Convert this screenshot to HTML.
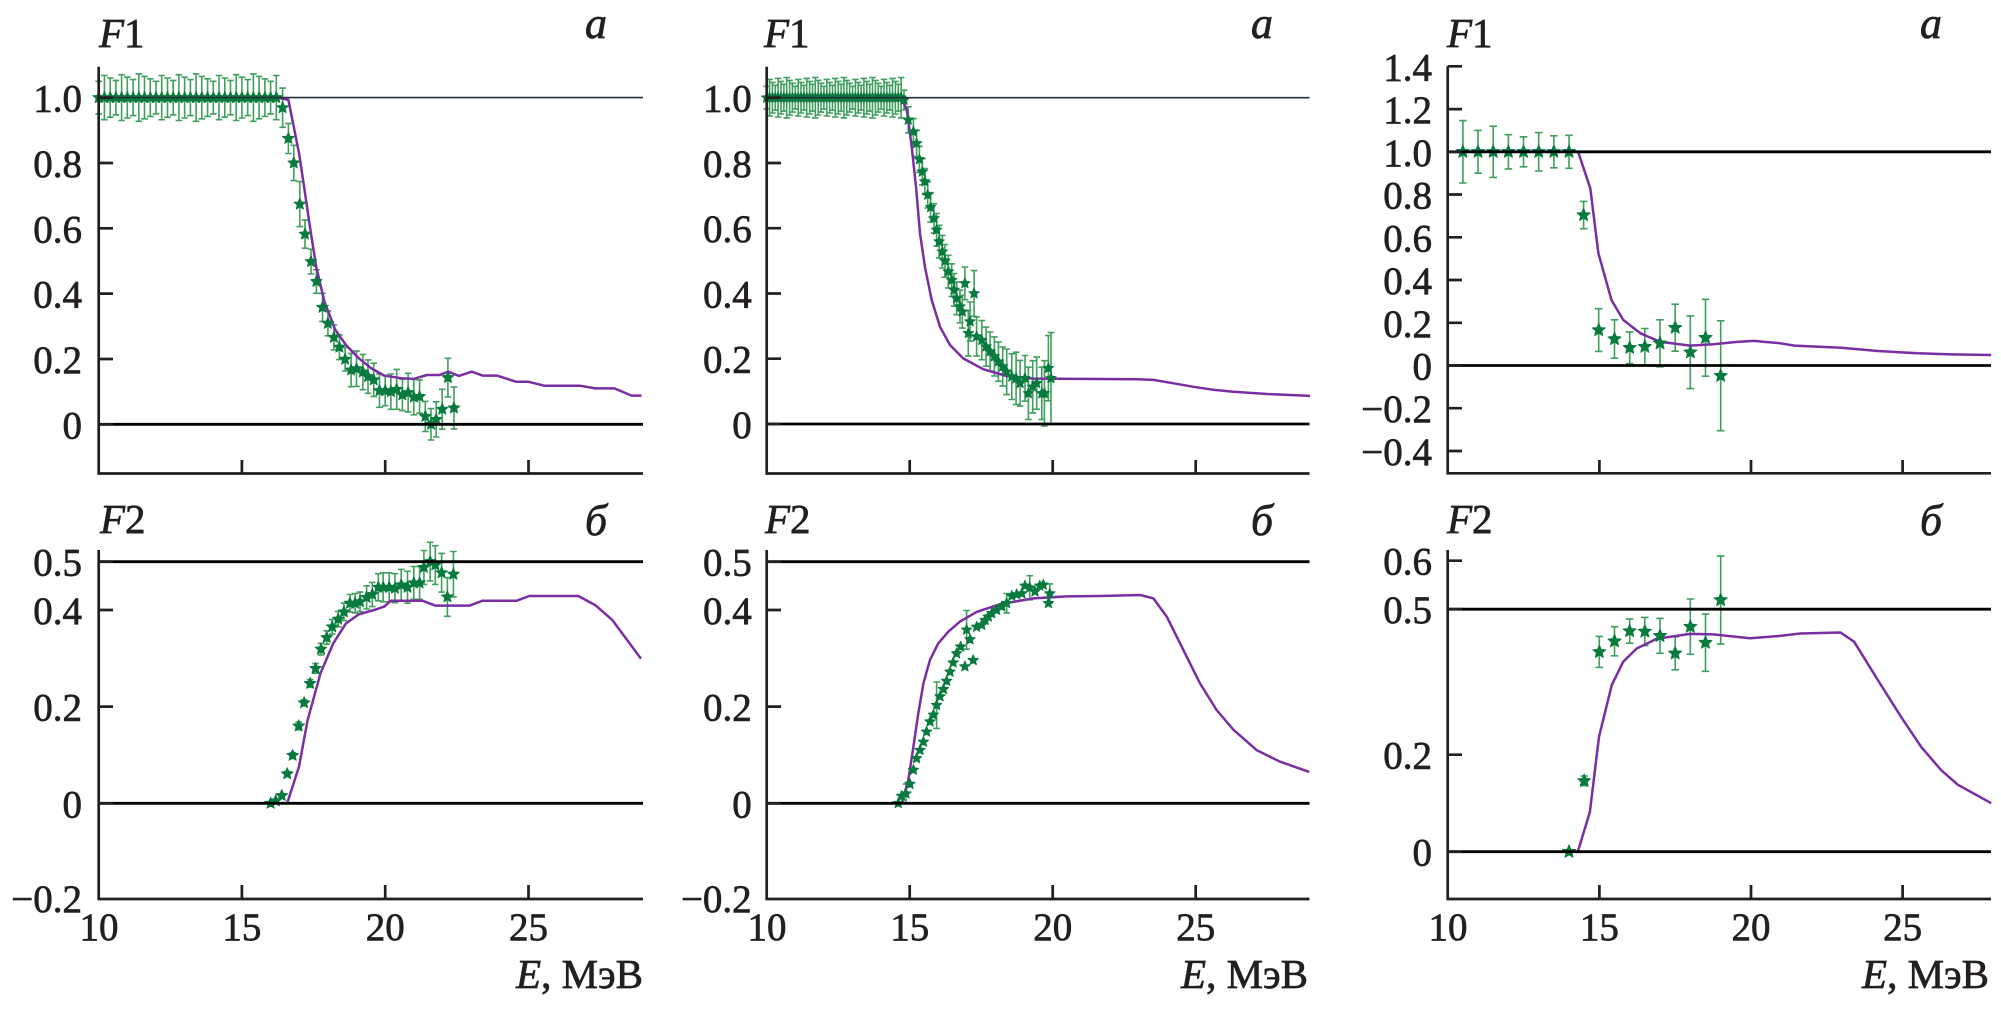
<!DOCTYPE html>
<html><head><meta charset="utf-8">
<style>
html,body{margin:0;padding:0;background:#fff;width:2001px;height:1033px;overflow:hidden}
svg{position:absolute;left:0;top:0}
.ax{stroke:#231f20;stroke-width:2.7;fill:none}
.rthin{stroke:#24303c;stroke-width:1.6}
.rthick{stroke:#000;stroke-width:2.8}
text{font-family:"Liberation Serif","DejaVu Serif",serif;fill:#231f20;stroke:#231f20;stroke-width:0.7}
.t{font-size:39px}
.tl{font-size:39px;text-anchor:end}
.tc{font-size:39px;text-anchor:middle}
.f{font-size:41px}
.it{font-style:italic}
.ab{font-size:44px;font-style:italic}
.e{font-size:41px;text-anchor:end}
</style></head><body>
<svg width="2001" height="1033" viewBox="0 0 2001 1033" xmlns="http://www.w3.org/2000/svg">
<g id="data"></g>

<!-- ===== Panel 1 top ===== -->
<line class="rthin" x1="98.7" y1="97.6" x2="643" y2="97.6"/>
<line class="rthick" x1="98.7" y1="424.3" x2="643" y2="424.3"/>
<path class="ax" d="M98.7 66.7V474.8M97.4 473.5H643M98.7 163H113M98.7 228.3H113M98.7 293.6H113M98.7 359H113M98.7 97.6H113M98.7 424.3H113M241.9 460V473.5M385.2 460V473.5M528.5 460V473.5"/>
<text class="tl" x="82" y="111.6">1.0</text>
<text class="tl" x="82" y="177">0.8</text>
<text class="tl" x="82" y="242.3">0.6</text>
<text class="tl" x="82" y="307.6">0.4</text>
<text class="tl" x="82" y="373">0.2</text>
<text class="tl" x="82" y="438.3">0</text>
<text class="f" x="99" y="47"><tspan class="it">F</tspan>1</text>
<text class="ab" x="585" y="38">a</text>

<!-- ===== Panel 2 top ===== -->
<line class="rthin" x1="766.7" y1="97.7" x2="1309.5" y2="97.7"/>
<line class="rthick" x1="766.7" y1="424" x2="1309.5" y2="424"/>
<path class="ax" d="M766.7 66.7V474.8M765.4 473.5H1309.5M766.7 163H781M766.7 228.2H781M766.7 293.5H781M766.7 358.7H781M766.7 97.7H781M766.7 424H781M909.7 460V473.5M1052.7 460V473.5M1195.7 460V473.5"/>
<text class="tl" x="751.7" y="111.7">1.0</text>
<text class="tl" x="751.7" y="177">0.8</text>
<text class="tl" x="751.7" y="242.2">0.6</text>
<text class="tl" x="751.7" y="307.5">0.4</text>
<text class="tl" x="751.7" y="372.7">0.2</text>
<text class="tl" x="751.7" y="438">0</text>
<text class="f" x="764" y="47"><tspan class="it">F</tspan>1</text>
<text class="ab" x="1251" y="38">a</text>

<!-- ===== Panel 3 top ===== -->
<line class="rthick" x1="1447.7" y1="151.8" x2="1991" y2="151.8"/>
<line class="rthick" x1="1447.7" y1="365.5" x2="1991" y2="365.5"/>
<path class="ax" d="M1447.7 66.3V474.6M1446.4 473.3H1991M1447.7 66.3H1462M1447.7 109.1H1462M1447.7 151.8H1462M1447.7 194.5H1462M1447.7 237.3H1462M1447.7 280H1462M1447.7 322.8H1462M1447.7 365.5H1462M1447.7 408.2H1462M1447.7 451H1462M1599.4 460V473.3M1751 460V473.3M1902.6 460V473.3"/>
<text class="tl" x="1432" y="80.3">1.4</text>
<text class="tl" x="1432" y="123.1">1.2</text>
<text class="tl" x="1432" y="165.8">1.0</text>
<text class="tl" x="1432" y="208.5">0.8</text>
<text class="tl" x="1432" y="251.3">0.6</text>
<text class="tl" x="1432" y="294">0.4</text>
<text class="tl" x="1432" y="336.8">0.2</text>
<text class="tl" x="1432" y="379.5">0</text>
<text class="tl" x="1432" y="422.2">−0.2</text>
<text class="tl" x="1432" y="465">−0.4</text>
<text class="f" x="1447" y="47"><tspan class="it">F</tspan>1</text>
<text class="ab" x="1920" y="38">a</text>

<!-- ===== Panel 1 bottom ===== -->
<line class="rthick" x1="98.7" y1="561.7" x2="643" y2="561.7"/>
<line class="rthick" x1="98.7" y1="803.3" x2="643" y2="803.3"/>
<path class="ax" d="M98.7 550V900.3M97.4 899H643M98.7 561.7H113M98.7 610H113M98.7 706.6H113M98.7 803.3H113M241.9 885V899M385.2 885V899M528.5 885V899"/>
<text class="tl" x="82" y="575.7">0.5</text>
<text class="tl" x="82" y="624">0.4</text>
<text class="tl" x="82" y="720.6">0.2</text>
<text class="tl" x="82" y="817.3">0</text>
<text class="tl" x="82" y="912">−0.2</text>
<text class="tc" x="99" y="940">10</text>
<text class="tc" x="241.9" y="940">15</text>
<text class="tc" x="385.2" y="940">20</text>
<text class="tc" x="528.5" y="940">25</text>
<text class="e" x="643" y="988"><tspan class="it">E</tspan>, МэВ</text>
<text class="f" x="100" y="533"><tspan class="it">F</tspan>2</text>
<text class="ab" x="585" y="535">б</text>

<!-- ===== Panel 2 bottom ===== -->
<line class="rthick" x1="766.7" y1="561.7" x2="1309.5" y2="561.7"/>
<line class="rthick" x1="766.7" y1="803.3" x2="1309.5" y2="803.3"/>
<path class="ax" d="M766.7 550V900.3M765.4 899H1309.5M766.7 561.7H781M766.7 610H781M766.7 706.6H781M766.7 803.3H781M909.7 885V899M1052.7 885V899M1195.7 885V899"/>
<text class="tl" x="751.7" y="575.7">0.5</text>
<text class="tl" x="751.7" y="624">0.4</text>
<text class="tl" x="751.7" y="720.6">0.2</text>
<text class="tl" x="751.7" y="817.3">0</text>
<text class="tl" x="751.7" y="912">−0.2</text>
<text class="tc" x="767" y="940">10</text>
<text class="tc" x="909.7" y="940">15</text>
<text class="tc" x="1052.7" y="940">20</text>
<text class="tc" x="1195.7" y="940">25</text>
<text class="e" x="1308" y="988"><tspan class="it">E</tspan>, МэВ</text>
<text class="f" x="765" y="533"><tspan class="it">F</tspan>2</text>
<text class="ab" x="1251" y="535">б</text>

<!-- ===== Panel 3 bottom ===== -->
<line class="rthick" x1="1447.7" y1="609.2" x2="1991" y2="609.2"/>
<line class="rthick" x1="1447.7" y1="851.7" x2="1991" y2="851.7"/>
<path class="ax" d="M1447.7 550V900.3M1446.4 899H1991M1447.7 560.7H1462M1447.7 609.2H1462M1447.7 754.7H1462M1447.7 851.7H1462M1599.4 885V899M1751 885V899M1902.6 885V899"/>
<text class="tl" x="1432" y="574.7">0.6</text>
<text class="tl" x="1432" y="623.2">0.5</text>
<text class="tl" x="1432" y="768.7">0.2</text>
<text class="tl" x="1432" y="865.7">0</text>
<text class="tc" x="1448" y="940">10</text>
<text class="tc" x="1599.4" y="940">15</text>
<text class="tc" x="1751" y="940">20</text>
<text class="tc" x="1902.6" y="940">25</text>
<text class="e" x="1989" y="988"><tspan class="it">E</tspan>, МэВ</text>
<text class="f" x="1447" y="533"><tspan class="it">F</tspan>2</text>
<text class="ab" x="1920" y="535">б</text>
</svg>

<script>
(function(){
var NS='http://www.w3.org/2000/svg';
var G=document.getElementById('data');
function P(x0,sx,y0,sy){return {X:function(v){return x0+sx*(v-10);},Y:function(v){return y0-sy*v;}};}
var P1T=P(98.7,28.65,424.3,326.7), P2T=P(766.7,28.6,424,326.3), P3T=P(1447.7,30.33,365.5,213.7);
var P1B=P(98.7,28.65,803.3,483.3), P2B=P(766.7,28.6,803.3,483.3), P3B=P(1447.7,30.33,851.7,485);
function el(n,a){var e=document.createElementNS(NS,n);for(var k in a)e.setAttribute(k,a[k]);G.appendChild(e);return e;}
function curve(p,pts){
  var d='';for(var i=0;i<pts.length;i++){d+=(i?'L':'M')+p.X(pts[i][0]).toFixed(1)+' '+p.Y(pts[i][1]).toFixed(1);}
  el('path',{d:d,fill:'none',stroke:'#7a2ea2','stroke-width':'2.5','stroke-linejoin':'round'});
}
function starPath(cx,cy,r){
  var d='';for(var i=0;i<10;i++){var a=-Math.PI/2+i*Math.PI/5;var rr=(i%2)?r*0.45:r;d+=(i?'L':'M')+(cx+rr*Math.cos(a)).toFixed(2)+' '+(cy+rr*Math.sin(a)).toFixed(2);}return d+'Z';
}
function bars(p,pts,cap){
  var d='';
  for(var i=0;i<pts.length;i++){var q=pts[i];if(!q[2])continue;var x=p.X(q[0]),y1=p.Y(q[1]+q[2]),y2=p.Y(q[1]-q[2]);
    d+='M'+x.toFixed(1)+' '+y1.toFixed(1)+'V'+y2.toFixed(1)+'M'+(x-cap).toFixed(1)+' '+y1.toFixed(1)+'H'+(x+cap).toFixed(1)+'M'+(x-cap).toFixed(1)+' '+y2.toFixed(1)+'H'+(x+cap).toFixed(1);}
  el('path',{d:d,fill:'none',stroke:'#3f9f5c','stroke-width':'1.6'});
}
function stars(p,pts,r){
  var d='';for(var i=0;i<pts.length;i++){d+=starPath(p.X(pts[i][0]),p.Y(pts[i][1]),r);}
  el('path',{d:d,fill:'#087a3e',stroke:'#087a3e','stroke-width':'0.8','stroke-linejoin':'round'});
}
// ---------- Panel 1 top ----------
var s1t=[];
for(var i=0;i<32;i++){s1t.push([10+0.2*i,1.0,0.05+0.025*((i*37)%10)/10]);}
s1t=s1t.concat([[16.42,0.969,0.06],[16.62,0.875,0.046],[16.81,0.80,0.054],[17.02,0.674,0.069],[17.20,0.582,0.043],[17.41,0.498,0.038],[17.60,0.437,0.036],[17.81,0.358,0.043],[18.0,0.309,0.038],[18.21,0.266,0.038],[18.40,0.236,0.038],[18.60,0.199,0.036],[18.81,0.166,0.051],[19.0,0.17,0.054],[19.22,0.16,0.054],[19.4,0.146,0.051],[19.6,0.136,0.051],[19.8,0.103,0.051],[20.0,0.103,0.046],[20.2,0.10,0.054],[20.4,0.107,0.061],[20.6,0.09,0.048],[20.8,0.097,0.059],[21.0,0.083,0.054],[21.2,0.085,0.051],[21.4,0.024,0.046],[21.6,0.0,0.048],[21.78,0.015,0.054],[21.99,0.046,0.061],[22.19,0.143,0.059],[22.4,0.05,0.064]]);
bars(P1T,s1t,3.3);
curve(P1T,[[10,1],[16.25,1],[16.62,0.993],[16.99,0.83],[17.17,0.727],[17.37,0.605],[17.59,0.482],[17.88,0.375],[18.26,0.289],[18.63,0.243],[19.08,0.202],[19.52,0.171],[19.97,0.149],[20.56,0.141],[21.0,0.139],[21.46,0.151],[21.9,0.151],[22.2,0.161],[22.57,0.148],[23.02,0.161],[23.4,0.149],[23.9,0.149],[24.58,0.130],[25.0,0.130],[25.55,0.118],[26.8,0.118],[27.33,0.11],[28.0,0.11],[28.6,0.088],[28.95,0.088]]);
stars(P1T,s1t,6.2);
// ---------- Panel 2 top ----------
var s2t=[];
for(var i=0;i<48;i++){s2t.push([10+0.1*i,1.0,0.035+0.03*((i*7)%10)/10]);}
s2t=s2t.concat([[14.8,0.993,0.03],[14.95,0.932,0.04],[15.13,0.896,0.04],[15.24,0.86,0.04],[15.34,0.811,0.04],[15.44,0.773,0.04],[15.53,0.743,0.04],[15.63,0.702,0.04],[15.73,0.664,0.045],[15.85,0.63,0.045],[15.94,0.595,0.05],[16.03,0.559,0.05],[16.14,0.528,0.05],[16.23,0.5,0.05],[16.35,0.467,0.05],[16.47,0.441,0.05],[16.55,0.411,0.05],[16.64,0.385,0.05],[16.76,0.36,0.05],[16.84,0.344,0.05],[16.93,0.431,0.05],[17.05,0.278,0.07],[17.11,0.314,0.06],[17.25,0.4,0.07],[17.34,0.268,0.06],[17.52,0.257,0.06],[17.67,0.237,0.06],[17.81,0.222,0.06],[17.96,0.207,0.06],[18.1,0.191,0.06],[18.25,0.176,0.06],[18.39,0.16,0.07],[18.57,0.145,0.07],[18.72,0.14,0.08],[18.86,0.125,0.07],[19.03,0.14,0.07],[19.15,0.094,0.08],[19.3,0.114,0.08],[19.44,0.125,0.08],[19.62,0.094,0.08],[19.71,0.094,0.1],[19.85,0.171,0.1],[19.94,0.14,0.14]]);
bars(P2T,s2t,3.3);
curve(P2T,[[10,1],[14.72,1],[14.9,0.962],[15.07,0.85],[15.22,0.727],[15.36,0.584],[15.53,0.482],[15.77,0.38],[16.06,0.298],[16.41,0.242],[16.87,0.201],[17.57,0.168],[18.39,0.147],[19.32,0.139],[21.65,0.138],[23.0,0.137],[23.52,0.135],[24.2,0.125],[24.92,0.114],[25.6,0.105],[26.32,0.099],[27.5,0.092],[29.0,0.086]]);
stars(P2T,s2t,5.6);
// ---------- Panel 3 top ----------
var s3t=[[10.5,1,0.146],[11,1,0.1],[11.5,1,0.12],[12,1,0.08],[12.5,1,0.07],[13,1,0.09],[13.5,1,0.075],[14,1,0.077],[14.48,0.704,0.064],[14.98,0.166,0.1],[15.5,0.124,0.09],[16,0.083,0.074],[16.5,0.088,0.085],[17,0.104,0.11],[17.5,0.177,0.11],[18,0.062,0.17],[18.5,0.13,0.18],[19,-0.048,0.257]];
bars(P3T,s3t,3.8);
curve(P3T,[[10,1],[14.3,1],[14.7,0.829],[14.97,0.525],[15.4,0.306],[15.79,0.213],[16.35,0.151],[17.0,0.111],[17.99,0.093],[18.76,0.099],[19.5,0.11],[20.08,0.115],[20.97,0.104],[21.43,0.093],[22.97,0.083],[24.18,0.068],[25.5,0.057],[26.6,0.052],[27.92,0.049]]);
stars(P3T,s3t,7);
// ---------- Panel 1 bottom ----------
var s1b=[[16.0,0],[16.18,0.005],[16.39,0.016],[16.58,0.061,0.005],[16.77,0.099,0.006],[16.98,0.16,0.008],[17.17,0.208,0.006],[17.38,0.248,0.008],[17.57,0.279,0.01],[17.76,0.319,0.012],[17.96,0.343,0.014],[18.15,0.365,0.015],[18.36,0.381,0.016],[18.56,0.396,0.018],[18.77,0.414,0.018],[18.95,0.414,0.02],[19.12,0.417,0.02],[19.35,0.426,0.024],[19.55,0.432,0.025],[19.76,0.447,0.028],[19.93,0.447,0.03],[20.14,0.447,0.03],[20.34,0.445,0.03],[20.56,0.452,0.032],[20.78,0.447,0.033],[21.0,0.456,0.034],[21.2,0.456,0.034],[21.35,0.488,0.035],[21.57,0.5,0.04],[21.75,0.493,0.04],[21.97,0.477,0.04],[22.17,0.427,0.04],[22.38,0.474,0.047]];
bars(P1B,s1b,3.3);
curve(P1B,[[16.2,0],[16.58,0],[16.99,0.076],[17.29,0.172],[17.74,0.269],[18.19,0.331],[18.63,0.372],[19.08,0.391],[19.67,0.401],[19.97,0.407],[20.19,0.419],[21.31,0.419],[21.75,0.409],[22.95,0.409],[23.39,0.419],[24.58,0.419],[25.03,0.429],[26.74,0.429],[27.33,0.410],[27.93,0.379],[28.93,0.299]]);
stars(P1B,s1b,6.2);
// ---------- Panel 2 bottom ----------
var s2b=[[14.6,0],[14.72,0.015],[14.87,0.02,0.02],[15.01,0.04],[15.13,0.069],[15.24,0.093],[15.36,0.11],[15.48,0.127],[15.59,0.148],[15.71,0.169],[15.83,0.183],[15.94,0.203,0.048],[16.06,0.221],[16.18,0.236],[16.29,0.253],[16.41,0.272],[16.52,0.291],[16.64,0.31],[16.78,0.324],[16.93,0.283],[16.99,0.359,0.04],[17.11,0.339],[17.22,0.296],[17.34,0.365],[17.52,0.369],[17.64,0.379],[17.75,0.386],[17.87,0.393],[18.04,0.4],[18.22,0.407],[18.39,0.414,0.02],[18.57,0.429],[18.74,0.432],[18.92,0.434],[19.03,0.45],[19.2,0.446,0.025],[19.38,0.438],[19.55,0.45],[19.67,0.452],[19.85,0.414],[19.9,0.434,0.02]];
bars(P2B,s2b,3.3);
curve(P2B,[[14.72,0],[14.95,0.048],[15.13,0.117],[15.3,0.186],[15.48,0.248],[15.71,0.297],[16.0,0.331],[16.35,0.355],[16.76,0.376],[17.34,0.396],[18.16,0.412],[19.32,0.424],[20.5,0.428],[21.65,0.429],[23.06,0.431],[23.52,0.424],[23.99,0.386],[24.57,0.317],[25.15,0.248],[25.73,0.193],[26.32,0.152],[27.13,0.11],[27.95,0.086],[28.97,0.065]]);
stars(P2B,s2b,5.6);
// ---------- Panel 3 bottom ----------
var s3b=[[14,0],[14.5,0.146,0.01],[15,0.412,0.032],[15.5,0.434,0.03],[16,0.455,0.025],[16.5,0.454,0.029],[17,0.445,0.036],[17.5,0.409,0.034],[18,0.464,0.057],[18.5,0.431,0.059],[19,0.519,0.091]];
bars(P3B,s3b,3.8);
curve(P3B,[[14.29,0],[14.69,0.082],[14.99,0.237],[15.41,0.344],[15.79,0.392],[16.23,0.419],[16.89,0.439],[17.99,0.449],[18.76,0.448],[19.97,0.44],[20.96,0.445],[21.63,0.450],[22.95,0.452],[23.4,0.433],[24.18,0.354],[24.95,0.278],[25.61,0.216],[26.27,0.168],[26.82,0.138],[27.92,0.1]]);
stars(P3B,s3b,7);
})();
</script>
</body></html>
